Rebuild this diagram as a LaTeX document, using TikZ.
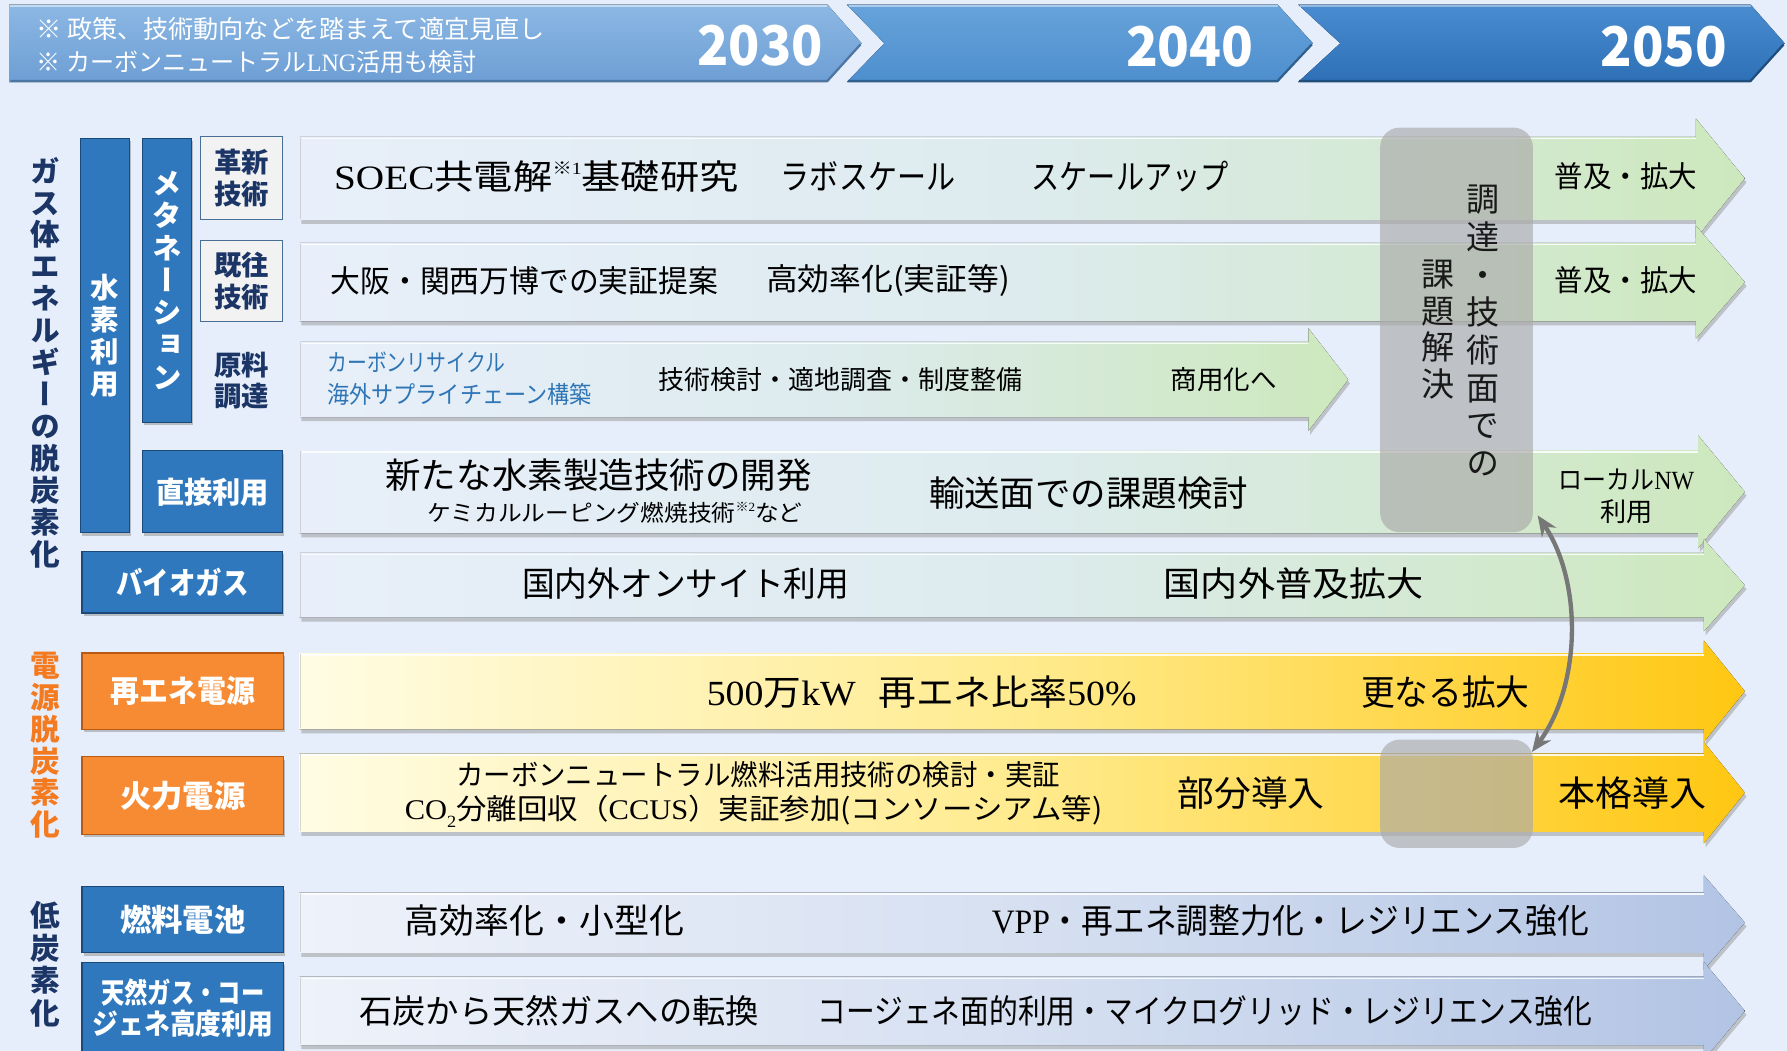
\documentclass[tikz,border=0pt]{standalone}
\usepackage{fontspec}
\usetikzlibrary{arrows.meta,shadows}
\newfontfamily\jpf{Noto Sans CJK JP}
\newfontfamily\jpvf[RawFeature=+vert]{Noto Sans CJK JP}
\newfontfamily\latf{Liberation Serif}
\newcommand\fsz[1]{\fontsize{#1}{#1}\selectfont}
\newcommand\fitw[2]{\resizebox{#1pt}{\height}{#2}}
\newcommand\ltn[1]{{\latf #1}}
\definecolor{bg}{HTML}{E6EEFB}
\definecolor{navy}{HTML}{1B3566}
\definecolor{labblue}{HTML}{2F78BD}
\definecolor{labblueD}{HTML}{1B4A7A}
\definecolor{labor}{HTML}{F68B33}
\definecolor{laborD}{HTML}{B85A14}
\definecolor{orgtxt}{HTML}{F47A20}
\definecolor{crblue}{HTML}{2E75B6}
\definecolor{boxgrey}{HTML}{ABABAB}
\definecolor{curvgrey}{HTML}{777777}
\definecolor{gL}{HTML}{E8EFFA}
\definecolor{gM}{HTML}{DDEBEE}
\definecolor{gR}{HTML}{CDE8BD}
\definecolor{yL}{HTML}{FFFCE4}
\definecolor{yM}{HTML}{FFEB8E}
\definecolor{yR}{HTML}{FFC712}
\definecolor{bL}{HTML}{EEF2FA}
\definecolor{bM}{HTML}{D6E0F1}
\definecolor{bR}{HTML}{B2C4E4}
\definecolor{c1T}{HTML}{8CB8E4}
\definecolor{c1B}{HTML}{6D9ED4}
\definecolor{c1E}{HTML}{4D76A3}
\definecolor{c2T}{HTML}{67A3DB}
\definecolor{c2B}{HTML}{4D8ECD}
\definecolor{c2E}{HTML}{31608F}
\definecolor{c3T}{HTML}{4A8CD0}
\definecolor{c3B}{HTML}{2E70B6}
\definecolor{c3E}{HTML}{1F4D7E}
% #1 x-left, #2 y-top, #3 y-bottom, #4 head base x, #5 head overhang, #6 tip x, #7 shading style
\newcommand\barrow[7]{%
  \fill[black!45,opacity=.45] (#1+1.5,#2+3.5) -- (#4+1.5,#2+3.5) -- (#4+1.5,#2-#5+3.5) -- (#6+1.5,{(#2+#3)/2+3.5}) -- (#4+1.5,#3+#5+3.5) -- (#4+1.5,#3+3.5) -- (#1+1.5,#3+3.5) -- cycle;
  \fill[#7] (#1,#2) -- (#4,#2) -- (#4,#2-#5) -- (#6,{(#2+#3)/2}) -- (#4,#3+#5) -- (#4,#3) -- (#1,#3) -- cycle;
  \draw[white,line width=1.5pt,opacity=.85] (#1+2,#2+1.5) -- (#4,#2+1.5);
  \draw[black!30,line width=1pt,opacity=.5] (#1+.5,#2+1) -- (#1+.5,#3-1);
}
\begin{document}
\begin{tikzpicture}[x=1pt,y=-1pt,
  txt/.style={inner sep=0pt, anchor=west, font=\jpf},
  ctxt/.style={inner sep=0pt, font=\jpf},
  vtxt/.style={inner sep=0pt, align=center},
  lab/.style={inner sep=0pt, draw=labblueD, fill=labblue, line width=1.2pt, text=white, font=\jpf\bfseries, drop shadow={shadow xshift=1.5pt,shadow yshift=-2.5pt,opacity=.45}},
  olab/.style={lab, draw=laborD, fill=labor},
  glab/.style={inner sep=0pt, draw=labblueD!80, fill=white!95!black, line width=1.2pt, text=navy, align=center, font=\jpf\bfseries\fontsize{24}{28}\selectfont},
  gbox/.style={inner sep=0pt, rounded corners=17pt, fill=boxgrey, fill opacity=.67},
  curv/.style={draw=curvgrey, line width=3.8pt, arrows={Stealth[length=18pt,width=15pt]-Stealth[length=18pt,width=15pt]}},
  rowG/.style={left color=gL, right color=gR, middle color=gM},
  rowY/.style={left color=yL, right color=yR, middle color=yM},
  rowB/.style={left color=bL, right color=bR, middle color=bM},
]
\useasboundingbox (0,0) rectangle (1568,922);
\fill[bg] (0,0) rectangle (1568,922);

% ---- top banner chevrons
\fill[top color=c1T, bottom color=c1B] (8,4) -- (726,4) -- (756,38) -- (726,72) -- (8,72) -- cycle;
\draw[c1E, line width=2pt] (9,71) -- (726,71) -- (755,39);
\draw[white, opacity=.5, line width=1.5pt] (9,5.5) -- (726,5.5);
\fill[top color=c2T, bottom color=c2B] (743,4) -- (1121,4) -- (1152,38) -- (1121,72) -- (743,72) -- (776,38) -- cycle;
\draw[c2E, line width=2pt] (744,71) -- (1121,71) -- (1151,39);
\draw[white, opacity=.45, line width=1.5pt] (745,5.5) -- (1121,5.5);
\fill[top color=c3T, bottom color=c3B] (1139,4) -- (1536,4) -- (1566,38) -- (1536,72) -- (1139,72) -- (1176,38) -- cycle;
\draw[c3E, line width=2pt] (1140,71) -- (1536,71) -- (1565,39);
\draw[white, opacity=.4, line width=1.5pt] (1141,5.5) -- (1536,5.5);

\node[txt, text=white] (note1) at (32,25) {\fitw{446}{\fsz{22}※ 政策、技術動向などを踏まえて適宜見直し}};
\node[txt, text=white] (note2) at (32,54) {\fitw{386}{\fsz{22}※ カーボンニュートラル\ltn{LNG}活用も検討}};
\node[ctxt, text=white] (y2030) at (667,40) {\fitw{110}{\fsz{48}\bfseries 2030}};
\node[ctxt, text=white] (y2040) at (1044,41) {\fitw{112}{\fsz{48}\bfseries 2040}};
\node[ctxt, text=white] (y2050) at (1460,41) {\fitw{111}{\fsz{48}\bfseries 2050}};

% ---- block arrows
\barrow{263}{120}{193}{1488}{16}{1531}{rowG}
\barrow{263}{213}{282}{1488}{15}{1531}{rowG}
\barrow{263}{300}{366}{1148}{12}{1183}{rowG}
\barrow{263}{395}{468}{1490}{13}{1531}{rowG}
\barrow{263}{485}{542}{1495}{12}{1531}{rowG}
\barrow{263}{573}{640}{1495}{11}{1531}{rowY}
\barrow{263}{661}{730}{1495}{10}{1531}{rowY}
\barrow{263}{783}{836}{1495}{15}{1531}{rowB}
\barrow{263}{857}{917}{1495}{13}{1531}{rowB}

% ---- left labels
\node[vtxt, text=navy, font=\jpvf\bfseries\fontsize{26}{28}\selectfont] (ttlgas) at (40,318) {ガ\\ス\\体\\エ\\ネ\\ル\\ギ\\ー\\の\\脱\\炭\\素\\化};
\node[vtxt, text=orgtxt, font=\jpvf\bfseries\fontsize{26}{27.8}\selectfont] (ttlpow) at (40,654) {電\\源\\脱\\炭\\素\\化};
\node[vtxt, text=navy, font=\jpvf\bfseries\fontsize{26}{28.5}\selectfont] (ttllow) at (40,846) {低\\炭\\素\\化};

\node[lab, minimum width=43pt, minimum height=346pt, align=center, font=\jpvf\bfseries\fontsize{25}{28}\selectfont] (h2use) at (92,294.5) {水\\素\\利\\用};
\node[lab, minimum width=43pt, minimum height=249pt, align=center, font=\jpvf\bfseries\fontsize{26}{28.3}\selectfont] (meth) at (146.5,246) {メ\\タ\\ネ\\ー\\シ\\ョ\\ン};
\node[glab, minimum width=72pt, minimum height=73pt] (innov) at (212,156) {革新\\技術};
\node[glab, minimum width=72pt, minimum height=71pt] (exist) at (212,246.5) {既往\\技術};
\node[inner sep=0pt, text=navy, align=center, font=\jpf\bfseries\fontsize{24}{28}\selectfont] (raw) at (212,334) {原料\\調達};
\node[lab, minimum width=123pt, minimum height=72pt] (direct) at (186.5,431.5) {\fitw{99}{\fsz{26}直接利用}};
\node[lab, minimum width=176pt, minimum height=54pt] (bio) at (160,511) {\fitw{116}{\fsz{27}バイオガス}};
\node[olab, minimum width=177pt, minimum height=67pt] (renew) at (160.5,606.5) {\fitw{127}{\fsz{27}再エネ電源}};
\node[olab, minimum width=177pt, minimum height=68pt] (thermal) at (160.5,698) {\fitw{110}{\fsz{27}火力電源}};
\node[lab, minimum width=177pt, minimum height=58pt] (fuelcell) at (160.5,807) {\fitw{110}{\fsz{27}燃料電池}};
\node[lab, minimum width=177pt, minimum height=80pt, align=center] (cogen) at (160.5,884.5) {\fitw{143}{\fsz{25}天然ガス・コー}\\[3pt]\fitw{158}{\fsz{25}ジェネ高度利用}};

% ---- grey boxes
\node[gbox, minimum width=134pt, minimum height=355pt] (g1) at (1278,289.5) {};
\node[gbox, minimum width=134pt, minimum height=95pt] (g2) at (1278,696.5) {};
\node[vtxt, text=black!90, font=\jpvf\fontsize{29}{33}\selectfont] (gt1) at (1301,290) {調\\達\\・\\技\\術\\面\\で\\の};
\node[vtxt, text=black!90, font=\jpvf\fontsize{29}{32}\selectfont] (gt2) at (1262,289) {課\\題\\解\\決};

% ---- texts in arrows
\node[txt] (t1a) at (293,155) {\fitw{355}{\fsz{30}\ltn{SOEC}共電解\raisebox{.45em}{\fsz{15}※\ltn{1}}基礎研究}};
\node[txt] (t1b) at (685,155) {\fitw{153}{\fsz{30}ラボスケール}};
\node[txt] (t1c) at (905,155) {\fitw{173}{\fsz{30}スケールアップ}};
\node[txt] (t1d) at (1364,155) {\fitw{125}{\fsz{26}普及・拡大}};

\node[txt] (t2a) at (290,246) {\fitw{340}{\fsz{27}大阪・関西万博での実証提案}};
\node[txt] (t2b) at (672,246) {\fitw{214}{\fsz{27}高効率化(実証等)}};
\node[txt] (t2c) at (1364,246) {\fitw{125}{\fsz{26}普及・拡大}};

\node[txt, text=crblue] (t3a) at (287,318) {\fitw{156}{\fsz{21}カーボンリサイクル}};
\node[txt, text=crblue] (t3b) at (287,346) {\fitw{232}{\fsz{21}海外サプライチェーン構築}};
\node[txt] (t3c) at (578,333) {\fitw{319}{\fsz{23}技術検討・適地調査・制度整備}};
\node[txt] (t3d) at (1027,333) {\fitw{93}{\fsz{23}商用化へ}};

\node[txt] (t4a) at (338,417) {\fitw{374}{\fsz{31}新たな水素製造技術の開発}};
\node[txt] (t4b) at (375,450) {\fitw{329}{\fsz{20}ケミカルルーピング燃焼技術\raisebox{.45em}{\fsz{11}※\ltn{2}}など}};
\node[txt] (t4c) at (815,433) {\fitw{280}{\fsz{31}輸送面での課題検討}};
\node[ctxt] (t4d) at (1427,421) {\fitw{119}{\fsz{23}ローカル\ltn{NW}}};
\node[ctxt] (t4e) at (1427,449) {\fsz{23}利用};

\node[txt] (t5a) at (458,512) {\fitw{287}{\fsz{30}国内外オンサイト利用}};
\node[txt] (t5b) at (1021,512) {\fitw{228}{\fsz{30}国内外普及拡大}};

\node[txt] (t6a) at (620,607) {\fitw{377}{\fsz{31}\ltn{500}万\ltn{kW}\hspace{.6em}再エネ比率\ltn{50\%}}};
\node[txt] (t6b) at (1194,607) {\fitw{148}{\fsz{31}更なる拡大}};

\node[txt] (t7a) at (400,680) {\fitw{530}{\fsz{25}カーボンニュートラル燃料活用技術の検討・実証}};
\node[txt] (t7b) at (355,712) {\fitw{612}{\fsz{25}\ltn{CO}\raisebox{-.3em}{\fsz{15}\ltn{2}}分離回収（\ltn{CCUS}）実証参加(コンソーシアム等)}};
\node[txt] (t7c) at (1033,696) {\fitw{129}{\fsz{31}部分導入}};
\node[txt] (t7d) at (1367,696) {\fitw{130}{\fsz{31}本格導入}};

\node[txt] (t8a) at (355,808) {\fitw{245}{\fsz{30}高効率化・小型化}};
\node[txt] (t8b) at (870,808) {\fitw{524}{\fsz{30}\ltn{VPP}・再エネ調整力化・レジリエンス強化}};

\node[txt] (t9a) at (315,887) {\fitw{351}{\fsz{29}石炭から天然ガスへの転換}};
\node[txt] (t9b) at (717,887) {\fitw{680}{\fsz{29}コージェネ面的利用・マイクログリッド・レジリエンス強化}};

% ---- curved double arrow
\draw[curv] ([xshift=4pt,yshift=15pt]g1.south east) .. controls (1388,510) and (1388,600) .. ([xshift=-1pt,yshift=-11pt]g2.north east);
\end{tikzpicture}
\end{document}
